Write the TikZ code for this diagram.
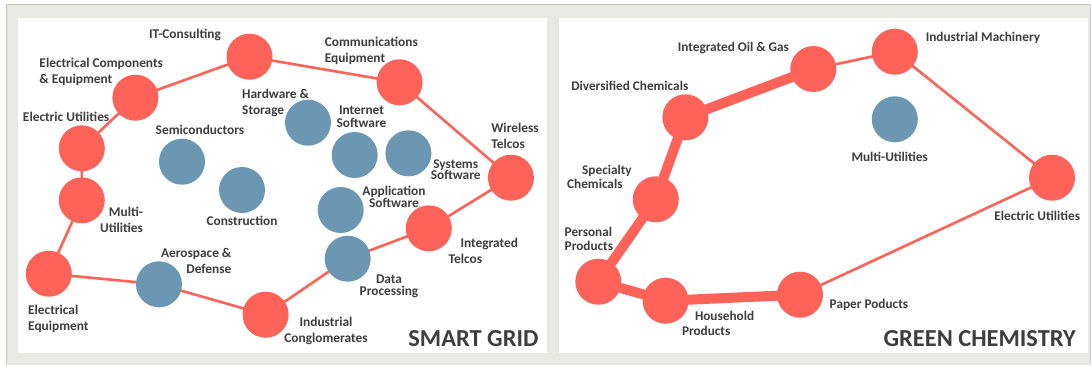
\documentclass[tikz,border=0pt]{standalone}
\usepackage{fontspec}
\setmainfont{Carlito}
\pgfdeclarelayer{panel}
\pgfdeclarelayer{edges}
\pgfsetlayers{panel,edges,main}
\definecolor{nred}{HTML}{FF6258}
\definecolor{nblue}{HTML}{6C97B3}
\definecolor{txt}{HTML}{3E3E3E}
\definecolor{bggray}{HTML}{E9E9E4}
\definecolor{bdgray}{HTML}{C4C4C4}
\begin{document}
\begin{tikzpicture}[x=1bp,y=-1bp,
 rednode/.style={circle,fill=nred,minimum size=46bp,inner sep=0pt},
 bluenode/.style={circle,fill=nblue,minimum size=46bp,inner sep=0pt},
 lbl/.style={text=txt,font=\fontsize{13.4}{16}\selectfont\bfseries,inner sep=0pt},
 lblr/.style={text=txt,font=\fontsize{13.3}{14.5}\selectfont\bfseries,inner sep=0pt},
 paneltitle/.style={text=txt,font=\fontsize{24.5}{24.5}\selectfont\bfseries,inner sep=0pt},
 thinedge/.style={draw=nred,line width=2.6bp},
 thickedge/.style={draw=nred,line width=10bp}]
\useasboundingbox (0,0) rectangle (1091,365);
\begin{pgfonlayer}{panel}
\fill[bggray] (6,4.5) rectangle (1091,365);
\draw[bdgray,line width=1bp] (6,365) -- (6,4.5) -- (1090.5,4.5) -- (1090.5,365);
\fill[white] (18,18) rectangle (547,353);
\fill[white] (559,18) rectangle (1088,353);
\end{pgfonlayer}
% ---------- SMART GRID ----------
\node[rednode] (itc) at (249.5,56.7) {};
\node[rednode] (comm) at (399.6,82.3) {};
\node[rednode] (ecomp) at (135.4,97.7) {};
\node[rednode] (eutil) at (81.8,148.3) {};
\node[rednode] (mutil) at (81.8,200.3) {};
\node[rednode] (eequip) at (48.8,273.7) {};
\node[rednode] (indc) at (265.6,314.7) {};
\node[rednode] (itel) at (428.8,228.3) {};
\node[rednode] (wtel) at (510.9,177.7) {};
\node[bluenode] (hw) at (308,122.7) {};
\node[bluenode] (semi) at (182,161.7) {};
\node[bluenode] (cons) at (242,190) {};
\node[bluenode] (isw) at (354.7,155) {};
\node[bluenode] (ssw) at (408.4,153.3) {};
\node[bluenode] (asw) at (340.7,210) {};
\node[bluenode] (dp) at (347.7,258.7) {};
\node[bluenode] (aero) at (159,284.3) {};
\begin{pgfonlayer}{edges}
\draw[thinedge] (eequip.center) -- (mutil.center) -- (eutil.center) -- (ecomp.center) -- (itc.center) -- (comm.center) -- (wtel.center) -- (itel.center) -- (dp.center) -- (indc.center) -- (aero.center) -- (eequip.center);
\end{pgfonlayer}
\node[lbl] (litc) at (185,35) {IT-Consulting};
\node[lbl,anchor=west,align=left] (lcomm) at (324.6,50.7) {Communications\\Equipment};
\node[lbl,anchor=west,align=left] (lecomp) at (39.3,72) {Electrical Components\\\& Equipment};
\node[lbl,anchor=west] (leutil) at (22.8,117) {Electric Utilities};
\node[lbl] (lsemi) at (200,130) {Semiconductors};
\node[lbl,anchor=west,align=left] (lhw) at (242,103) {Hardware \&\\Storage};
\node[lbl,align=center] (lisw) at (361.5,116.5) {Internet\\[-3bp]Software};
\node[lbl,align=center] (lssw) at (455.7,169.5) {Systems\\[-4.5bp]Software};
\node[lbl,anchor=west,align=left] (lwtel) at (491.2,136) {Wireless\\Telcos};
\node[lbl,align=center] (lasw) at (394,197) {Application\\[-4.5bp]Software};
\node[lbl,anchor=east,align=right] (lmutil) at (143.2,220) {Multi-\\Utilities};
\node[lbl] (lcons) at (242,221) {Construction};
\node[lbl,anchor=east,align=right] (laero) at (231.6,261) {Aerospace \&\\Defense};
\node[lbl,anchor=west,align=left] (litel) at (448.4,251) {\hspace*{12bp}Integrated\\Telcos};
\node[lbl,align=center] (ldp) at (389,286) {Data\\[-4bp]Processing};
\node[lbl,anchor=west,align=left] (leequip) at (28,319) {Electrical\\Equipment};
\node[lbl,align=center] (lindc) at (326,331) {Industrial\\Conglomerates};
\node[paneltitle,anchor=east] (tsg) at (538.6,338.3) {SMART GRID};
% ---------- GREEN CHEMISTRY ----------
\node[rednode] (oil) at (813.3,69) {};
\node[rednode] (imach) at (894.8,51.7) {};
\node[rednode] (dchem) at (685.4,117.3) {};
\node[rednode] (schem) at (655.8,199.3) {};
\node[rednode] (pprod) at (598.3,281.7) {};
\node[rednode] (hprod) at (665.6,300.7) {};
\node[rednode] (paper) at (800,294.7) {};
\node[rednode] (geutil) at (1052,177.7) {};
\node[bluenode] (gmutil) at (894.8,119.3) {};
\begin{pgfonlayer}{edges}
\draw[thickedge,line join=round] (oil.center) -- (dchem.center) -- (schem.center) -- (pprod.center) -- (hprod.center) -- (paper.center);
\draw[thinedge] (oil.center) -- (imach.center) -- (geutil.center) -- (paper.center);
\end{pgfonlayer}
\node[lblr] (loil) at (733.4,48) {Integrated Oil \& Gas};
\node[lblr,anchor=west] (limach) at (925.6,38) {Industrial Machinery};
\node[lblr] (ldchem) at (629.8,86) {Diversified Chemicals};
\node[lblr] (lgmutil) at (889.7,157) {Multi-Utilities};
\node[lblr,anchor=west,align=left] (lschem) at (567,177) {\hspace*{15bp}Specialty\\Chemicals};
\node[lblr,anchor=west,align=left] (lpprod) at (564.5,239) {Personal\\Products};
\node[lblr,anchor=west,align=left] (lhprod) at (681.8,323.5) {\hspace*{13bp}Household\\Products};
\node[lblr,anchor=west] (lpaper) at (829.5,305) {Paper Poducts};
\node[lblr,anchor=west] (lgeutil) at (994.2,216) {Electric Utilities};
\node[paneltitle,anchor=east] (tgc) at (1076,338.3) {GREEN CHEMISTRY};
\end{tikzpicture}
\end{document}
